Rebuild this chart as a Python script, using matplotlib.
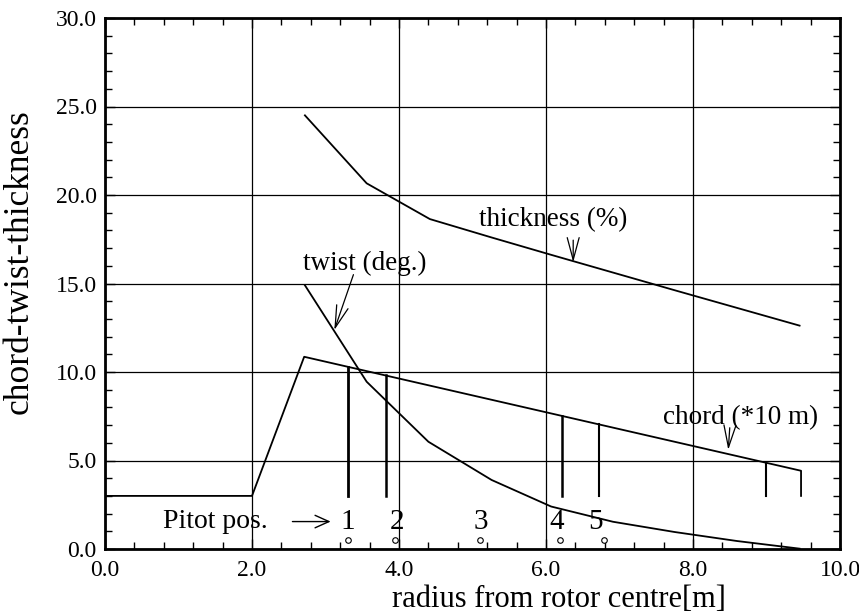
import matplotlib
matplotlib.use("Agg")
import matplotlib.pyplot as plt
import numpy as np

plt.rcParams['font.family'] = ['Liberation Serif', 'DejaVu Serif']
plt.rcParams['mathtext.fontset'] = 'stix'

# --- data ---
chord_r = [0.0, 2.0, 2.71, 9.47, 9.47]
chord_v = [3.0, 3.0, 10.86, 4.42, 3.0]

twist_r = [2.72, 3.56, 4.40, 5.26, 6.07, 6.91, 7.75, 8.60, 9.45]
twist_v = [14.9, 9.45, 6.06, 3.90, 2.40, 1.54, 0.96, 0.45, 0.02]

thick_r = [2.72, 3.56, 4.42, 5.26, 6.07, 6.91, 7.75, 8.60, 9.45]
thick_v = [24.5, 20.66, 18.64, 17.60, 16.62, 15.62, 14.62, 13.62, 12.62]

# vertical chord markers (pitot stations) down to y=3.0
station_r = [3.31, 3.82, 6.22, 6.72, 8.99]
station_top = [10.30, 9.82, 7.52, 7.05, 4.88]
station_lw = [2.0, 1.8, 1.8, 1.5, 1.5]

pitot_r = [3.31, 3.95, 5.10, 6.19, 6.79]
pitot_labels = ['1', '2', '3', '4', '5']
pitot_label_r = [3.30, 3.97, 5.11, 6.15, 6.67]

x_ticks = [0.0, 2.0, 4.0, 6.0, 8.0, 10.0]
y_ticks = [0.0, 5.0, 10.0, 15.0, 20.0, 25.0, 30.0]

fig = plt.figure(figsize=(8.59, 6.16), dpi=100)
ax = fig.add_axes([105/859, 1-549/616, (840-105)/859, (549-18)/616])

ax.set_xlim(0, 10)
ax.set_ylim(0, 30)
ax.set_xticks(x_ticks)
ax.set_yticks(y_ticks)
ax.set_xticks(np.arange(0, 10.01, 0.4), minor=True)
ax.set_yticks(np.arange(0, 30.01, 1.0), minor=True)
ax.set_xticklabels([f"{v:.1f}" for v in x_ticks])
ax.set_yticklabels([f"{v:.1f}" for v in y_ticks])
ax.tick_params(which='both', direction='in', top=True, right=True, labelsize=17, width=1.0, color='black')
ax.tick_params(which='major', length=7, pad=6)
ax.tick_params(axis='x', which='major', pad=8)
ax.tick_params(which='minor', length=5)
ax.grid(True, which='major', color='black', linewidth=0.9)
for s in ax.spines.values():
    s.set_linewidth(2.0)

lc = 'black'
ax.plot(chord_r, chord_v, color=lc, lw=1.3)
ax.plot(twist_r, twist_v, color=lc, lw=1.3)
ax.plot(thick_r, thick_v, color=lc, lw=1.3)

for r, t, w in zip(station_r, station_top, station_lw):
    ax.plot([r, r], [3.0, t], color=lc, lw=w)

ax.plot(pitot_r, [0.5]*len(pitot_r), linestyle='none', marker='o', ms=4,
        mfc='white', mec='black', mew=0.8, clip_on=False)
for r, lab in zip(pitot_label_r, pitot_labels):
    ax.text(r, 1.55, lab, fontsize=21, ha='center', va='center')

ax.text(0.79, 1.55, 'Pitot pos.', fontsize=20, ha='left', va='center')
ax.annotate('', xy=(3.07, 1.55), xytext=(2.55, 1.55),
            arrowprops=dict(arrowstyle='->,head_length=1.0,head_width=0.45', lw=1.0,
                            color='black', shrinkA=0, shrinkB=0))

ann_kw = dict(arrowstyle='->,head_length=1.6,head_width=0.43', lw=0.9, color='black', shrinkA=0, shrinkB=0)
ax.text(6.1, 18.6, 'thickness (%)', fontsize=19.5, ha='center', va='center')
ax.annotate('', xy=(6.37, 16.2), xytext=(6.37, 17.45), arrowprops=ann_kw)
ax.text(3.54, 16.15, 'twist (deg.)', fontsize=19.5, ha='center', va='center')
ax.annotate('', xy=(3.12, 12.37), xytext=(3.38, 15.5), arrowprops=ann_kw)
ax.text(8.65, 7.4, 'chord (*10 m)', fontsize=19.5, ha='center', va='center')
ax.annotate('', xy=(8.48, 5.6), xytext=(8.50, 6.85), arrowprops=ann_kw)

ax.set_xlabel('radius from rotor centre[m]', fontsize=22)
ax.xaxis.set_label_coords(0.618, -0.068)
ax.set_ylabel('chord-twist-thickness', fontsize=25.5)
ax.yaxis.set_label_coords(-0.094, 0.542)

fig.savefig('out.png', dpi=100)
